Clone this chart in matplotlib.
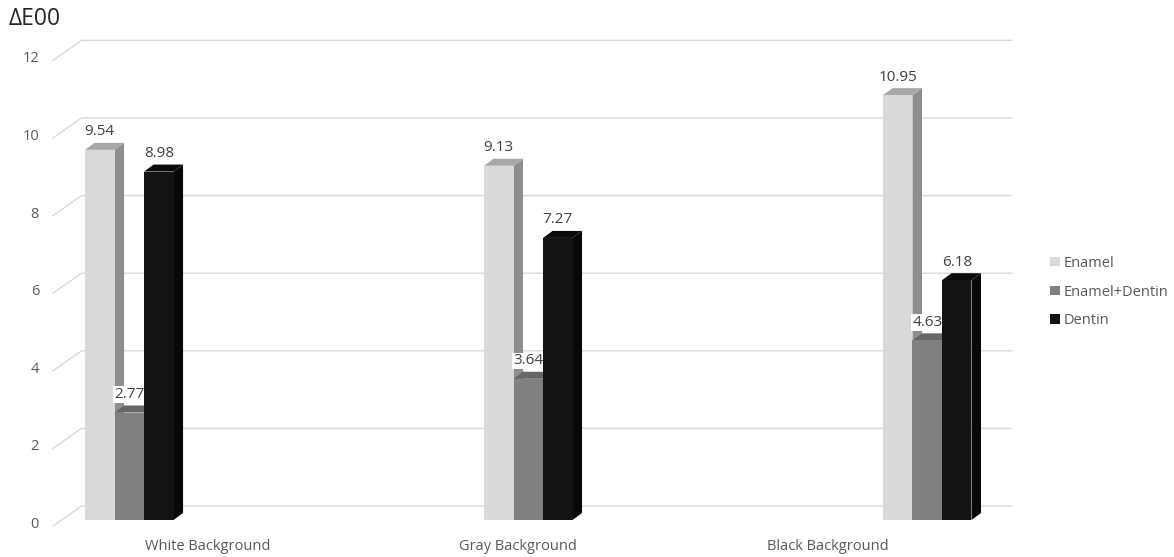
import matplotlib
matplotlib.use("Agg")
import matplotlib.pyplot as plt
import numpy as np
from matplotlib.patches import Polygon, Patch

plt.rcParams['font.family'] = ['Open Sans', 'DejaVu Sans']

# data
categories = ["White Background", "Gray Background", "Black Background"]
series = ["Enamel", "Enamel+Dentin", "Dentin"]
enamel = [9.54, 9.13, 10.95]
enamel_dentin = [2.77, 3.64, 4.63]
dentin = [8.98, 7.27, 6.18]
yticks = [0, 2, 4, 6, 8, 10, 12]

front_cols = ['#d9d9d9', '#808080', '#131313']
side_cols = ['#8e8e8e', '#5a5a5a', '#080808']
top_cols = ['#a8a8a8', '#666666', '#0a0a0a']

W, H = 1174, 557
fig = plt.figure(figsize=(W / 100, H / 100), dpi=100)

# axes = plane of the bar fronts (pixels measured on the reference)
ax_l, ax_w = 61.5, 930.0
ax_b, ax_h = 520.0, 12 * 38.8
ax = fig.add_axes([ax_l / W, (H - ax_b) / H, ax_w / W, ax_h / H])
ax.set_xlim(0, 3)
ax.set_ylim(0, 12)
ax.axis('off')

sx = 3 / ax_w      # data units per pixel
sy = 12 / ax_h

# floor/wall offsets in pixels
front_dx, front_dy = -8.5, -6
back_dx, back_dy = 20, 14
depth_dx, depth_dy = 9.5, 7

grid_col = '#d9d9d9'
for v in yticks:
    x0, y0 = front_dx * sx, v + front_dy * sy
    x1, y1 = back_dx * sx, v + back_dy * sy
    ax.plot([x0, x1, 3 + back_dx * sx], [y0, y1, y1], color=grid_col, lw=1.0,
            clip_on=False, zorder=1)
    ax.text(x0 - 14 * sx, y0 + 1.5 * sy, str(v), ha='right', va='center',
            fontsize=10.5, color='#595959')

for i, c in enumerate(categories):
    ax.text(i + 0.5 + front_dx * sx, front_dy * sy - 21 * sy, c, ha='center',
            va='center', fontsize=10.5, color='#595959')

# bars
bar_w = 29.5 * sx
group_left = 0.076 + 1.287 * np.arange(len(categories))
values = [enamel, enamel_dentin, dentin]
ddx, ddy = depth_dx * sx, depth_dy * sy
for g in range(len(categories)):
    for s in range(len(series)):
        v = values[s][g]
        x0 = group_left[g] + s * bar_w
        x1 = x0 + bar_w
        z = 2 + s
        side = Polygon([(x1, 0), (x1 + ddx, ddy), (x1 + ddx, v + ddy), (x1, v)],
                       closed=True, fc=side_cols[s], ec='none', zorder=z, clip_on=False)
        top = Polygon([(x0, v), (x1, v), (x1 + ddx, v + ddy), (x0 + ddx, v + ddy)],
                      closed=True, fc=top_cols[s], ec='none', zorder=z, clip_on=False)
        ax.add_patch(side)
        ax.add_patch(top)
        ax.bar(x0, v, width=bar_w, align='edge', color=front_cols[s], zorder=z,
               clip_on=False)
        ax.text(x0 + bar_w / 2, v + 18 * sy, f"{v:.2f}", ha='center', va='center',
                fontsize=11, color='#404040', zorder=z + 0.5,
                bbox=dict(fc='white', ec='none', pad=0.5))

fig.text(9 / W, 1 - 19 / H, "ΔE00", ha='left', va='center', fontsize=16.5,
         color='#262626')

handles = [Patch(fc=front_cols[s], ec='none') for s in range(len(series))]
fig.legend(handles, series, loc='center left',
           bbox_to_anchor=(1043 / W, 1 - 292 / H), frameon=False, fontsize=10.5,
           handlelength=0.65, handleheight=0.65, handletextpad=0.25,
           labelspacing=0.95, borderpad=0, labelcolor='#595959')

fig.savefig("out.png", dpi=100)
